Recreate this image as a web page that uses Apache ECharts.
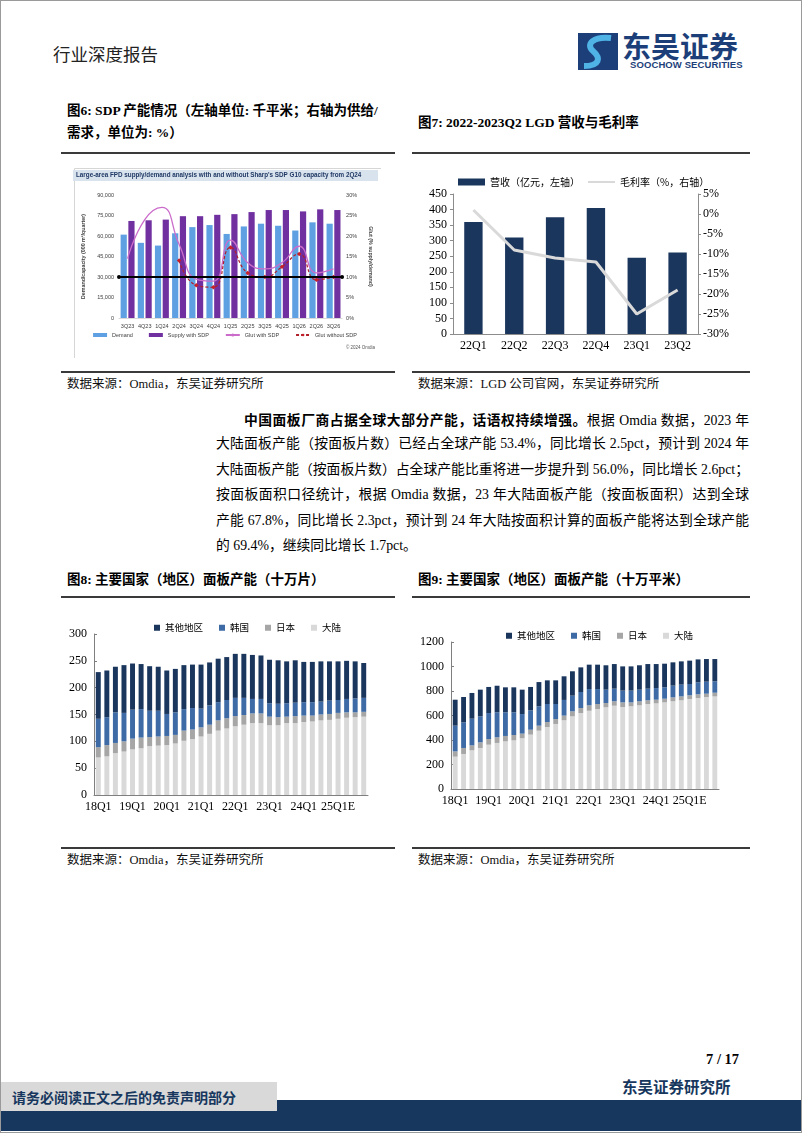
<!DOCTYPE html>
<html><head><meta charset="utf-8">
<script src="https://cdn.jsdelivr.net/npm/echarts@6/dist/echarts.min.js"></script>
<style>
body{margin:0;background:#fff;}
#page{position:relative;width:800px;height:1131px;border:1px solid #9a9a9a;background:#fff;overflow:hidden;font-family:"Liberation Serif","Noto Sans CJK SC",serif;color:#000;}
.abs{position:absolute;white-space:nowrap;}
.ttl{position:absolute;white-space:nowrap;font-weight:bold;font-size:13.5px;line-height:18px;font-family:"Liberation Serif","Noto Sans CJK SC",serif;}
.src{position:absolute;white-space:nowrap;font-size:12.5px;line-height:16px;color:#111;}
.rule{position:absolute;height:2px;background:#3a3a3a;}
.pl{position:absolute;left:215px;width:533px;font-size:13.8px;white-space:nowrap;text-align:justify;text-align-last:justify;line-height:18px;}
.chart{position:absolute;}
</style></head>
<body>
<div id="page">
  <div class="abs" style="left:52px;top:43px;font-size:17.5px;line-height:20px;color:#222;font-family:'Noto Sans CJK SC';">行业深度报告</div>
  <svg class="abs" style="left:577px;top:32px" width="40" height="37" viewBox="0 0 40 37">
    <polygon points="0,0 40,0 40,37 0,37" fill="#1C3F7A"/>
    <path d="M33 5 C 16 3, 7 11, 15 18 C 23 25, 22 33, 6 33" stroke="#4FB3E6" stroke-width="6" fill="none"/>
  </svg>
  <div class="abs" style="left:621px;top:28px;font-size:29px;line-height:32px;font-weight:bold;color:#1C3F7A;font-family:'Noto Sans CJK SC';">东吴证券</div>
  <div class="abs" style="left:629px;top:58px;font-size:9.5px;line-height:12px;font-weight:bold;color:#1C3F7A;font-family:'Liberation Sans';letter-spacing:0.1px;">SOOCHOW SECURITIES</div>

  <div class="ttl" style="left:66px;top:101px;">图6: SDP 产能情况（左轴单位: 千平米；右轴为供给/</div>
  <div class="ttl" style="left:66px;top:123px;">需求，单位为: %）</div>
  <div class="ttl" style="left:417px;top:113px;">图7: 2022-2023Q2 LGD 营收与毛利率</div>
  <div class="rule" style="left:60px;top:151px;width:334px;"></div>
  <div class="rule" style="left:411px;top:151px;width:338px;"></div>

  <div id="c6" class="chart" style="left:68px;top:163px;width:312px;height:194px;"></div>
  <div id="c7" class="chart" style="left:410px;top:163px;width:340px;height:194px;"></div>

  <div class="rule" style="left:60px;top:370px;width:334px;"></div>
  <div class="rule" style="left:411px;top:370px;width:338px;"></div>
  <div class="src" style="left:66px;top:375px;">数据来源：Omdia，东吴证券研究所</div>
  <div class="src" style="left:417px;top:375px;">数据来源：LGD 公司官网，东吴证券研究所</div>

  <div class="pl" style="top:409px;left:243px;width:505px;"><b style="font-family:'Noto Sans CJK SC';">中国面板厂商占据全球大部分产能，话语权持续增强。</b>根据 Omdia 数据，2023 年</div>
  <div class="pl" style="top:434px;">大陆面板产能（按面板片数）已经占全球产能 53.4%，同比增长 2.5pct，预计到 2024 年</div>
  <div class="pl" style="top:460px;">大陆面板产能（按面板片数）占全球产能比重将进一步提升到 56.0%，同比增长 2.6pct；</div>
  <div class="pl" style="top:485px;">按面板面积口径统计，根据 Omdia 数据，23 年大陆面板产能（按面板面积）达到全球</div>
  <div class="pl" style="top:511px;">产能 67.8%，同比增长 2.3pct，预计到 24 年大陆按面积计算的面板产能将达到全球产能</div>
  <div class="pl" style="top:536px;text-align:left;text-align-last:left;">的 69.4%，继续同比增长 1.7pct。</div>

  <div class="ttl" style="left:66px;top:570px;">图8: 主要国家（地区）面板产能（十万片）</div>
  <div class="ttl" style="left:417px;top:570px;">图9: 主要国家（地区）面板产能（十万平米）</div>
  <div class="rule" style="left:60px;top:595px;width:334px;"></div>
  <div class="rule" style="left:411px;top:595px;width:338px;"></div>

  <div id="c8" class="chart" style="left:60px;top:600px;width:330px;height:222px;"></div>
  <div id="c9" class="chart" style="left:410px;top:600px;width:340px;height:222px;"></div>

  <div class="rule" style="left:60px;top:846px;width:334px;"></div>
  <div class="rule" style="left:411px;top:846px;width:338px;"></div>
  <div class="src" style="left:66px;top:851px;">数据来源：Omdia，东吴证券研究所</div>
  <div class="src" style="left:417px;top:851px;">数据来源：Omdia，东吴证券研究所</div>

  <div class="abs" style="left:705px;top:1049px;font-size:14.5px;line-height:18px;font-weight:bold;">7 / 17</div>
  <div class="abs" style="left:621px;top:1075px;font-size:15.5px;line-height:20px;font-weight:bold;color:#17375E;font-family:'Noto Sans CJK SC';">东吴证券研究所</div>
  <div class="abs" style="left:0;top:1099px;width:802px;height:31px;background:#17375E;"></div>
  <div class="abs" style="left:0;top:1081px;width:276px;height:29px;background:#D9D9D9;"></div>
  <div class="abs" style="left:11px;top:1086px;font-size:14px;line-height:20px;font-weight:bold;color:#17375E;font-family:'Noto Sans CJK SC';">请务必阅读正文之后的免责声明部分</div>
</div>
<script>
// ---------- Figure 6 data ----------
const f6Cats = ['3Q23','4Q23','1Q24','2Q24','3Q24','4Q24','1Q25','2Q25','3Q25','4Q25','1Q26','2Q26','3Q26'];
const f6Demand = [61000,55000,53000,62000,66500,68000,61500,67000,69000,67500,64000,70000,69000];
const f6Supply = [71000,71500,72000,74500,74500,75500,76000,77500,79000,79000,78000,79500,79000];
const f6GlutWith = [14.5,24,27,18,9.5,9,19,13.5,12,13.5,17.5,11,12];
const f6GlutWithout = [null,null,null,14,8,7.5,17.2,11,10,12.5,15.6,9.3,10];
const f6RefLine = 30000;

// ---------- Figure 7 data ----------
const f7Cats = ['22Q1','22Q2','22Q3','22Q4','23Q1','23Q2'];
const f7Revenue = [360,310,375,405,245,262];
const f7Margin = [1,-9,-11,-12,-25,-19];

// ---------- Figure 8/9 categories ----------
const qCats = ['18Q1','18Q2','18Q3','18Q4','19Q1','19Q2','19Q3','19Q4','20Q1','20Q2','20Q3','20Q4',
  '21Q1','21Q2','21Q3','21Q4','22Q1','22Q2','22Q3','22Q4','23Q1','23Q2','23Q3','23Q4',
  '24Q1','24Q2','24Q3','24Q4','25Q1E','25Q2E','25Q3E','25Q4E'];
const regionNames = ['其他地区','韩国','日本','大陆'];

// ---------- Figure 8 data (十万片) ----------
const f8Mainland = [70,72,78,81,85,87,91,92,93,96,101,104,109,114,120,124,128,131,134,134,130,130,134,134,136,137,139,140,142,144,145,146];
const f8Japan    = [19,21,19,19,20,20,17,17,17,16,19,18,17,17,19,19,19,18,18,18,16,15,12,13,12,11,11,11,11,10,9,9];
const f8Korea    = [53,52,57,53,54,53,49,48,41,42,40,40,35,36,34,34,34,32,27,27,25,25,25,25,25,25,24,25,24,25,26,26];
const f8Other    = [87,87,85,89,86,84,83,82,81,81,82,81,82,80,81,80,82,82,82,81,81,81,78,79,75,75,75,73,72,71,69,65];

// ---------- Figure 9 data (十万平米) ----------
const f9Mainland = [264,286,316,335,362,376,389,397,414,444,476,506,531,561,593,620,639,653,667,680,669,675,683,694,699,707,716,724,735,743,751,756];
const f9Japan    = [43,49,40,46,46,46,44,44,38,40,41,41,40,38,41,41,44,41,35,36,38,32,33,30,30,30,32,32,30,30,27,30];
const f9Korea    = [210,209,218,212,212,204,193,185,160,158,158,147,123,128,128,131,133,122,109,103,96,96,95,95,95,93,96,96,92,98,98,93];
const f9Other    = [212,207,210,218,213,217,204,204,199,191,198,193,193,193,199,201,199,199,199,201,198,198,199,201,196,193,190,190,191,187,185,182];

const serifFont = '"Liberation Serif","Noto Sans CJK SC",serif';
const cjkFont = '"Noto Sans CJK SC","Liberation Serif",sans-serif';

// ---------- Chart 6 ----------
const c6 = echarts.init(document.getElementById('c6'), null, {renderer:'canvas'});
c6.setOption({
  animation:false,
  backgroundColor:'#fff',
  graphic:[
    {type:'rect', left:3, top:2, shape:{width:307, height:190}, style:{fill:'none', stroke:'#d6d6d6', lineWidth:1}},
    {type:'rect', left:4, top:6, shape:{width:305, height:11}, style:{fill:'#D9E3EE'}},
    {type:'text', left:7, top:8, style:{text:"Large-area FPD supply/demand analysis with and without Sharp's SDP G10 capacity from 2Q24", fill:'#1F3864', font:'bold 6.3px "Liberation Sans", sans-serif'}},
    {type:'text', right:6, top:181, style:{text:'© 2024 Omdia', fill:'#555', font:'4.5px "Liberation Sans", sans-serif'}}
  ],
  grid:{left:50, right:33, top:31, bottom:40},
  legend:{
    bottom:15, left:'center', itemWidth:14, itemHeight:4, itemGap:16,
    textStyle:{fontSize:5.5, color:'#404040', fontFamily:'"Liberation Sans", sans-serif'},
    data:[
      {name:'Demand', icon:'rect'},
      {name:'Supply with SDP', icon:'rect'},
      {name:'Glut with SDP'},
      {name:'Glut without SDP'}
    ]
  },
  xAxis:{
    type:'category', data:f6Cats,
    axisLine:{show:true, lineStyle:{color:'#d9d9d9'}}, axisTick:{show:false},
    axisLabel:{interval:0, fontSize:5.5, color:'#404040', margin:5, fontFamily:'"Liberation Sans", sans-serif'}
  },
  yAxis:[
    {type:'value', min:0, max:90000, interval:15000,
     name:'Demand/capacity (000 m²/quarter)', nameLocation:'middle', nameGap:31, nameRotate:90,
     nameTextStyle:{fontSize:5.3, fontWeight:'bold', color:'#404040', fontFamily:'"Liberation Sans", sans-serif'},
     axisLine:{show:false}, axisTick:{show:false}, splitLine:{show:false},
     axisLabel:{fontSize:5.5, color:'#404040', margin:5, fontFamily:'"Liberation Sans", sans-serif',
       formatter:v=>v.toLocaleString('en-US')}},
    {type:'value', min:0, max:30, interval:5,
     name:'Glut (% supply/demand)', nameLocation:'middle', nameGap:20, nameRotate:-90,
     nameTextStyle:{fontSize:5.3, fontWeight:'bold', color:'#404040', fontFamily:'"Liberation Sans", sans-serif'},
     axisLine:{show:false}, axisTick:{show:false}, splitLine:{show:false},
     axisLabel:{fontSize:5.5, color:'#404040', margin:4, formatter:'{value}%', fontFamily:'"Liberation Sans", sans-serif'}}
  ],
  series:[
    {name:'Demand', type:'bar', data:f6Demand, barWidth:6.2, barGap:'25%', itemStyle:{color:'#5FA0E2'},
     markLine:{silent:true, symbol:['circle','circle'], symbolSize:4, label:{show:false},
       lineStyle:{color:'#000', width:1.8, type:'solid'}, data:[{yAxis:f6RefLine}]}},
    {name:'Supply with SDP', type:'bar', data:f6Supply, barWidth:6.2, itemStyle:{color:'#7030A0'}},
    {name:'Glut with SDP', type:'line', yAxisIndex:1, data:f6GlutWith, smooth:0.5, showSymbol:false, symbol:'none',
     lineStyle:{color:'#CB6CCB', width:1.3}, itemStyle:{color:'#CB6CCB'}},
    {name:'Glut without SDP', type:'line', yAxisIndex:1, data:f6GlutWithout, smooth:0.5, symbol:'diamond', symbolSize:4.5,
     lineStyle:{color:'#B0202A', width:1.2, type:[3,2]}, itemStyle:{color:'#C8202A'}}
  ]
});

// ---------- Chart 7 ----------
const c7 = echarts.init(document.getElementById('c7'), null, {renderer:'canvas'});
c7.setOption({
  animation:false,
  grid:{left:42, right:53, top:30, bottom:24},
  legend:{
    top:8, left:42, itemWidth:27, itemHeight:7, itemGap:8,
    textStyle:{fontSize:10, color:'#000', fontFamily:cjkFont},
    data:[
      {name:'营收（亿元，左轴）', icon:'rect'},
      {name:'毛利率（%，右轴）', icon:'path://M0,0 L0.01,0 M0,2.4 L27,2.4 L27,4.6 L0,4.6 Z M26.99,7 L27,7', itemStyle:{color:'#D9D9D9'}}
    ]
  },
  xAxis:{
    type:'category', data:f7Cats,
    axisLine:{lineStyle:{color:'#8c8c8c'}}, axisTick:{show:false},
    axisLabel:{fontSize:12, color:'#000', margin:6, fontFamily:serifFont}
  },
  yAxis:[
    {type:'value', min:0, max:450, interval:50,
     axisLine:{show:true, lineStyle:{color:'#8c8c8c'}}, axisTick:{show:true, length:3, lineStyle:{color:'#8c8c8c'}},
     splitLine:{show:false},
     axisLabel:{fontSize:12, color:'#000', margin:6, fontFamily:serifFont}},
    {type:'value', min:-30, max:5, interval:5,
     axisLine:{show:true, lineStyle:{color:'#8c8c8c'}}, axisTick:{show:true, length:3, lineStyle:{color:'#8c8c8c'}},
     splitLine:{show:false},
     axisLabel:{fontSize:12, color:'#000', margin:5, formatter:'{value}%', fontFamily:serifFont}}
  ],
  series:[
    {name:'营收（亿元，左轴）', type:'bar', data:f7Revenue, barWidth:'45%', itemStyle:{color:'#1B365D'}},
    {name:'毛利率（%，右轴）', type:'line', yAxisIndex:1, data:f7Margin, symbol:'none',
     lineStyle:{color:'#D9D9D9', width:3}, itemStyle:{color:'#D9D9D9'}}
  ]
});

// ---------- Stacked charts 8 & 9 ----------
const regionColors = {'其他地区':'#1B365D','韩国':'#3E6BA6','日本':'#A6A6A6','大陆':'#D9D9D9'};
function stackedOption(gridCfg, legendCfg, yMax, yInt, seriesData){
  const order = ['大陆','日本','韩国','其他地区'];
  return {
    animation:false,
    grid:gridCfg,
    legend:Object.assign({
      itemWidth:6, itemHeight:6, itemGap:16, icon:'rect',
      textStyle:{fontSize:9.5, color:'#000', fontFamily:cjkFont},
      data:regionNames
    }, legendCfg),
    xAxis:{
      type:'category', data:qCats,
      axisLine:{lineStyle:{color:'#7f7f7f'}}, axisTick:{show:false},
      axisLabel:{interval:3, fontSize:12, color:'#000', margin:6, fontFamily:serifFont}
    },
    yAxis:{
      type:'value', min:0, max:yMax, interval:yInt,
      axisLine:{show:true, lineStyle:{color:'#7f7f7f'}},
      axisTick:{show:true, inside:true, length:3, lineStyle:{color:'#7f7f7f'}},
      splitLine:{show:false},
      axisLabel:{fontSize:12, color:'#000', margin:7, fontFamily:serifFont, formatter:v=>String(v)}
    },
    series:order.map(n=>({
      name:n, type:'bar', stack:'total', data:seriesData[n], barCategoryGap:'42%',
      itemStyle:{color:regionColors[n]}
    }))
  };
}
const c8 = echarts.init(document.getElementById('c8'), null, {renderer:'canvas'});
c8.setOption(stackedOption({left:33, right:23, top:33, bottom:28}, {top:17, left:88}, 300, 50,
  {'大陆':f8Mainland,'日本':f8Japan,'韩国':f8Korea,'其他地区':f8Other}));
const c9 = echarts.init(document.getElementById('c9'), null, {renderer:'canvas'});
c9.setOption(stackedOption({left:40, right:32, top:41, bottom:34}, {top:25, left:90}, 1200, 200,
  {'大陆':f9Mainland,'日本':f9Japan,'韩国':f9Korea,'其他地区':f9Other}));
</script>
</body></html>
